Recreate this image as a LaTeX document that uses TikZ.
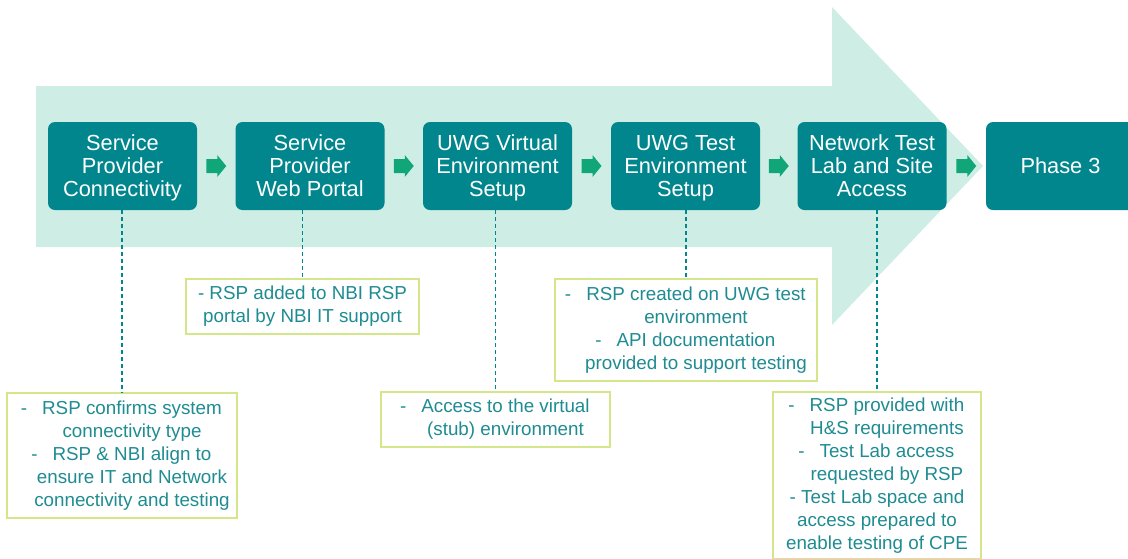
\documentclass[tikz,border=0pt]{standalone}
\usepackage{fontspec}
\setmainfont{Liberation Sans}
\usetikzlibrary{calc}
\definecolor{tealbox}{RGB}{0,134,140}
\definecolor{lightarrow}{RGB}{206,237,229}
\definecolor{greenarr}{RGB}{16,166,120}
\definecolor{tbborder}{RGB}{212,230,138}
\definecolor{tbtext}{RGB}{30,140,146}
\newcommand\bl[1]{\hspace*{20pt}\llap{-\hspace{0.8em}}#1}
\newcommand\cl[1]{\hspace*{20pt}#1}
\newcommand\tstrut{\rule{0pt}{22pt}}
\newcommand\smallarr[2]{\fill[greenarr] ($(#1.east)!0.5!(#2.west)$) ++(-10,-7) -- ++(11,0) -- ++(0,-4) -- ++(9,11) -- ++(-9,11) -- ++(0,-4) -- ++(-11,0) -- cycle;}
\begin{document}
\begin{tikzpicture}[x=1pt,y=-1pt,
  stage/.style={fill=tealbox, rounded corners=7pt, minimum width=149pt, minimum height=88pt, text=white, align=center, inner sep=0pt, font=\fontsize{21.8}{23}\selectfont},
  note/.style={draw=tbborder, line width=1.3pt, fill=white, text=tbtext, align=center, inner sep=0pt, font=\fontsize{18.8}{23}\selectfont},
  link/.style={draw=tealbox, dash pattern=on 4pt off 3pt, line width=1.2pt}]
\useasboundingbox (0,0) rectangle (1128,558);
\clip (0,0) rectangle (1128,558);
\fill[lightarrow] (36,86) -- (832,86) -- (832,7) -- (983,166) -- (832,325) -- (832,247) -- (36,247) -- cycle;

\node[stage] (b1) at (122.5,166) {\tstrut Service\\Provider\\Connectivity\strut};
\node[stage] (b2) at (310,166) {\tstrut Service\\Provider\\Web Portal\strut};
\node[stage] (b3) at (497.5,166) {\tstrut UWG Virtual\\Environment\\Setup\strut};
\node[stage] (b4) at (685.5,166) {\tstrut UWG Test\\Environment\\Setup\strut};
\node[stage] (b5) at (872,166) {\tstrut Network Test\\Lab and Site\\Access\strut};
\node[stage] (b6) at (1060.5,166) {\tstrut Phase 3\strut};

\smallarr{b1}{b2}
\smallarr{b2}{b3}
\smallarr{b3}{b4}
\smallarr{b4}{b5}
\smallarr{b5}{b6}

\node[note, minimum width=230pt, minimum height=125pt] (t1) at (122,455.5)
  {\strut\bl{RSP confirms system}\\\cl{connectivity type}\\\bl{RSP \& NBI align to}\\\cl{ensure IT and Network}\\\cl{connectivity and testing}\strut};
\node[note, minimum width=233pt, minimum height=55pt] (t2) at (302.5,306.5)
  {\strut - RSP added to NBI RSP\\portal by NBI IT support\strut};
\node[note, minimum width=229pt, minimum height=55pt] (t3) at (495.5,419.5)
  {\strut\bl{Access to the virtual}\\\cl{(stub) environment}\strut};
\node[note, minimum width=262pt, minimum height=102pt] (t4) at (686,330)
  {\strut\bl{RSP created on UWG test}\\\cl{environment}\\\bl{API documentation}\\\cl{provided to support testing}\strut};
\node[note, minimum width=208pt, minimum height=167pt] (t5) at (877,475.5)
  {\strut\bl{RSP provided with}\\\cl{H\&S requirements}\\\bl{Test Lab access}\\\cl{requested by RSP}\\- Test Lab space and\\access prepared to\\enable testing of CPE\strut};

\draw[link] (b1.south -| t1.north) -- (t1.north);
\draw[link] (b2.south -| t2.north) -- (t2.north);
\draw[link] (b3.south -| t3.north) -- (t3.north);
\draw[link] (b4.south -| t4.north) -- (t4.north);
\draw[link] (b5.south -| t5.north) -- (t5.north);
\end{tikzpicture}
\end{document}
